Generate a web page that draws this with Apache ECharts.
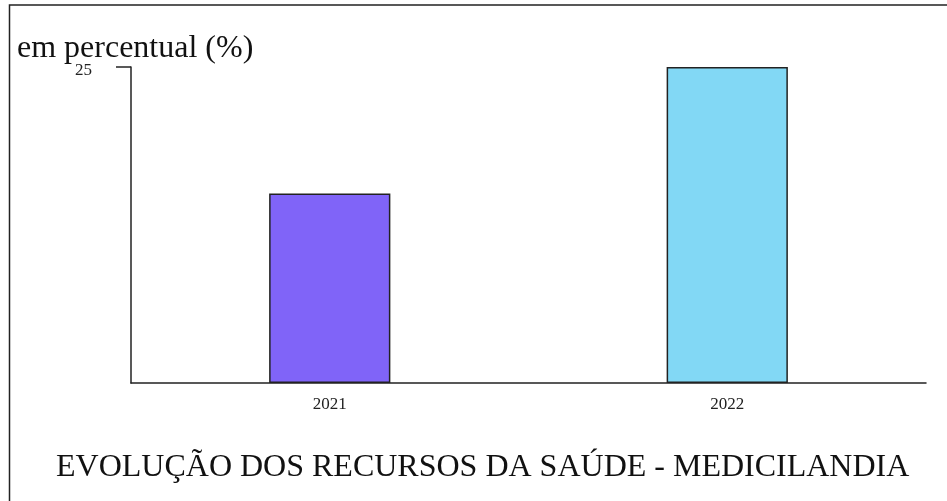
<!DOCTYPE html>
<html>
<head>
<meta charset="utf-8">
<script src="https://cdn.jsdelivr.net/npm/echarts@6/dist/echarts.min.js"></script>
<style>
  html, body { margin: 0; padding: 0; background: #fff; }
  #chart { width: 947px; height: 501px; }
</style>
</head>
<body>
<div id="chart"></div>
<script>
// 資料
const years = ["2021", "2022"];
const values = [15, 25];
const barColors = ["#8064f8", "#82d8f5"];
const yTicks = [0, 25];

const chart = echarts.init(document.getElementById("chart"));

const option = {
  animation: false,
  backgroundColor: "#fff",
  textStyle: { fontFamily: "Liberation Serif" },
  title: [
    {
      text: "em percentual (%)",
      left: 12,
      top: 28,
      textStyle: { fontFamily: "Liberation Serif", fontSize: 32, fontWeight: "normal", color: "#111" },
    },
    {
      text: "EVOLUÇÃO DOS RECURSOS DA SAÚDE - MEDICILANDIA",
      left: 51,
      top: 447,
      textStyle: { fontFamily: "Liberation Serif", fontSize: 32, fontWeight: "normal", color: "#111" },
    },
  ],
  // 外框
  graphic: [
    {
      type: "rect",
      shape: { x: 9.5, y: 5, width: 945, height: 505 },
      style: { fill: null, stroke: "#222", lineWidth: 1.5 },
      silent: true,
    },
  ],
  grid: { left: 131, right: 21, top: 67, bottom: 118 },
  xAxis: {
    type: "category",
    data: years,
    axisLine: { lineStyle: { color: "#222", width: 1.5 } },
    axisTick: { show: false },
    axisLabel: { color: "#222", fontSize: 17, fontFamily: "Liberation Serif", margin: 13 },
  },
  yAxis: {
    type: "value",
    min: yTicks[0],
    max: yTicks[yTicks.length - 1],
    interval: 25,
    splitLine: { show: false },
    axisLine: { show: true, lineStyle: { color: "#222", width: 1.5 } },
    axisTick: { show: true, length: 15, lineStyle: { color: "#222", width: 1.5 } },
    axisLabel: {
      showMinLabel: false,
      color: "#222",
      fontSize: 17,
      fontFamily: "Liberation Serif",
      margin: 39,
      verticalAlign: "top",
      lineHeight: 8,
    },
  },
  series: [
    {
      type: "bar",
      barWidth: "30.5%",
      data: values.map((v, i) => ({
        value: v,
        itemStyle: { color: barColors[i], borderColor: "#222", borderWidth: 1.5 },
      })),
    },
  ],
};
chart.setOption(option);
</script>
</body>
</html>
